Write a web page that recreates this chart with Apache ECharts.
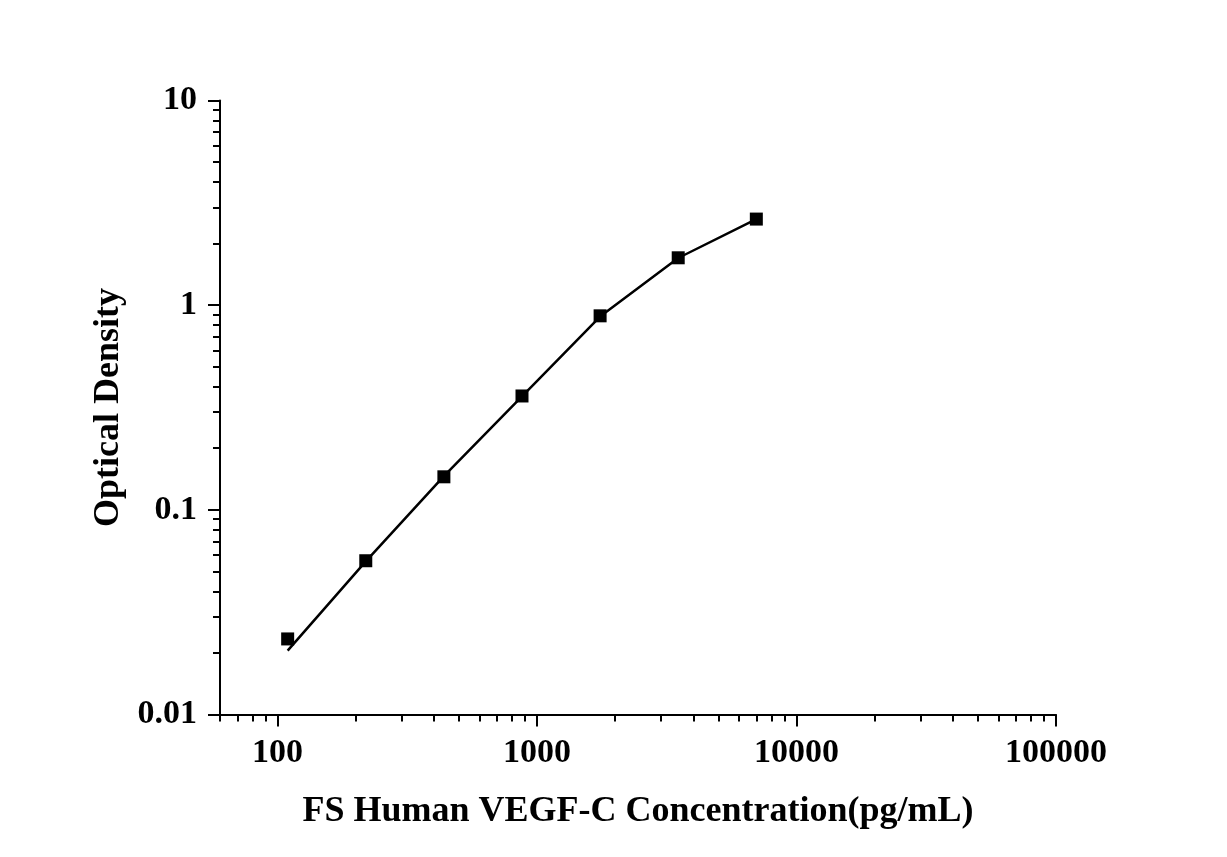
<!DOCTYPE html>
<html>
<head>
<meta charset="utf-8">
<script src="https://cdn.jsdelivr.net/npm/echarts@6/dist/echarts.min.js"></script>
<style>html,body{margin:0;padding:0;background:#fff}#c{width:1227px;height:857px}</style>
</head>
<body>
<div id="c"></div>
<script>
var concentrations = [109.375, 218.75, 437.5, 875, 1750, 3500, 7000];
var odValues = [0.0234, 0.0564, 0.145, 0.360, 0.887, 1.704, 2.634];
var fitValues = [0.0205, 0.0560, 0.146, 0.358, 0.880, 1.70, 2.63];
var xMajorTicks = [100, 1000, 10000, 100000];
var xMinorTicks = [60, 70, 80, 90, 200, 300, 400, 500, 600, 700, 800, 900, 2000, 3000, 4000, 5000, 6000, 7000, 8000, 9000, 20000, 30000, 40000, 50000, 60000, 70000, 80000, 90000];
var yMajorTicks = [0.01, 0.1, 1, 10];
var yMinorTicks = [0.02, 0.03, 0.04, 0.05, 0.06, 0.07, 0.08, 0.09, 0.2, 0.3, 0.4, 0.5, 0.6, 0.7, 0.8, 0.9, 2, 3, 4, 5, 6, 7, 8, 9];
var xTitle = 'FS Human VEGF-C Concentration(pg/mL)';
var yTitle = 'Optical Density';

var font = 'Liberation Serif';
function fmt(v) {
  if (v >= 1) return String(Math.round(v));
  return String(+v.toPrecision(1));
}
var chart = echarts.init(document.getElementById('c'));
var axisLine = {show: true, lineStyle: {color: '#000', width: 2}};
chart.setOption({
  animation: false,
  backgroundColor: '#fff',
  grid: {left: 220, right: 171, top: 100.5, bottom: 142.5},
  xAxis: [{
    type: 'log', logBase: 10, min: 60, max: 100000,
    position: 'bottom',
    axisLine: axisLine,
    axisTick: {show: true, inside: false, length: 12, lineStyle: {color: '#000', width: 2}, customValues: xMajorTicks},
    axisLabel: {show: true, margin: 22, color: '#000', fontFamily: font, fontWeight: 'bold', fontSize: 34, customValues: xMajorTicks, formatter: fmt},
    splitLine: {show: false},
    name: xTitle, nameLocation: 'middle', nameGap: 79,
    nameTextStyle: {color: '#000', fontFamily: font, fontWeight: 'bold', fontSize: 36}
  }, {
    type: 'log', logBase: 10, min: 60, max: 100000,
    position: 'bottom',
    axisLine: {show: false},
    axisTick: {show: true, inside: false, length: 7, lineStyle: {color: '#000', width: 2}, customValues: xMinorTicks},
    axisLabel: {show: false},
    splitLine: {show: false}
  }],
  yAxis: [{
    type: 'log', logBase: 10, min: 0.01, max: 10,
    position: 'left',
    axisLine: axisLine,
    axisTick: {show: true, inside: false, length: 12, lineStyle: {color: '#000', width: 2}, customValues: yMajorTicks},
    axisLabel: {show: true, margin: 23, color: '#000', fontFamily: font, fontWeight: 'bold', fontSize: 34, customValues: yMajorTicks, formatter: fmt},
    splitLine: {show: false},
    name: yTitle, nameLocation: 'middle', nameGap: 89, nameRotate: 90,
    nameTextStyle: {color: '#000', fontFamily: font, fontWeight: 'bold', fontSize: 36, verticalAlign: 'bottom'}
  }, {
    type: 'log', logBase: 10, min: 0.01, max: 10,
    position: 'left',
    axisLine: {show: false},
    axisTick: {show: true, inside: false, length: 7, lineStyle: {color: '#000', width: 2}, customValues: yMinorTicks},
    axisLabel: {show: false},
    splitLine: {show: false}
  }],
  series: [{
    type: 'line',
    data: concentrations.map(function (c, i) { return [c, fitValues[i]]; }),
    showSymbol: false, symbol: 'none',
    lineStyle: {color: '#000', width: 2.5},
    z: 2
  }, {
    type: 'scatter',
    data: concentrations.map(function (c, i) { return [c, odValues[i]]; }),
    symbol: 'rect', symbolSize: 13,
    itemStyle: {color: '#000', opacity: 1},
    z: 3
  }]
});
</script>
</body>
</html>
